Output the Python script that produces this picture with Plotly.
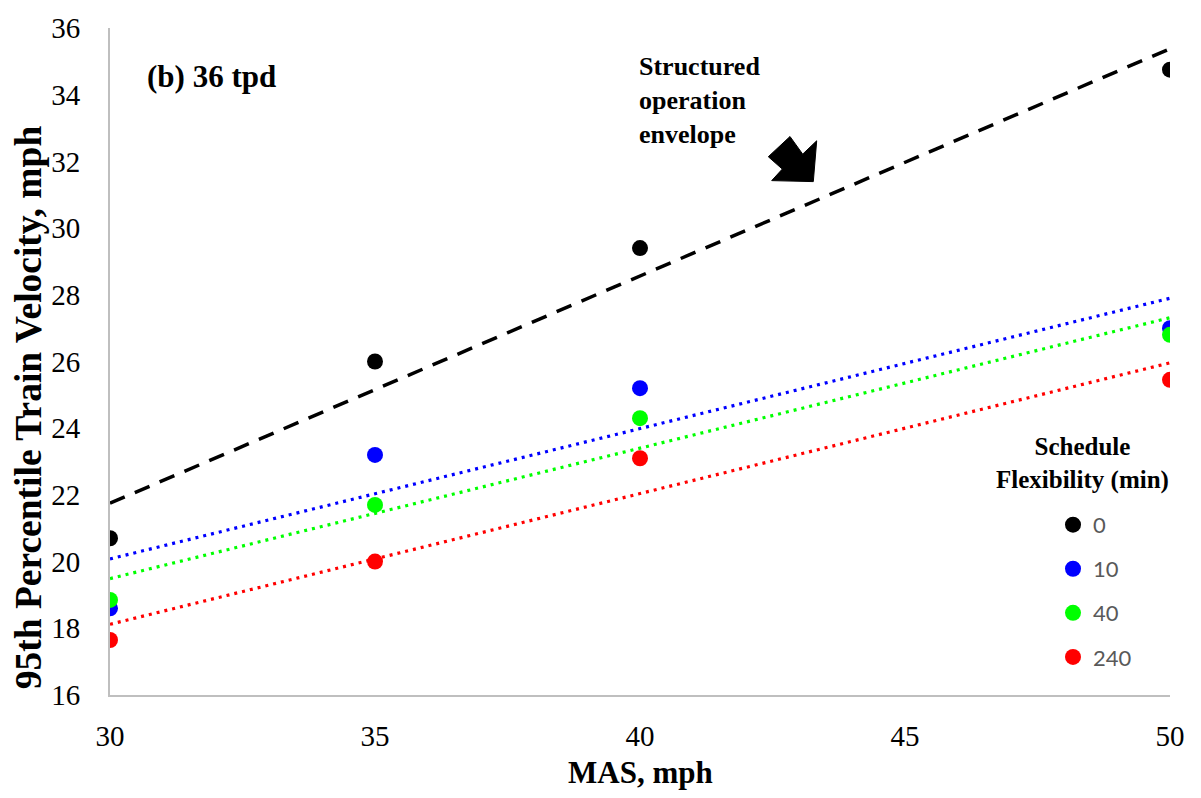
import numpy as np
import plotly.graph_objects as go

# ---- data ----
mas = [30, 35, 40, 50]
flex_labels = ["0", "10", "40", "240"]
v_flex0 = [20.7, 26.0, 29.4, 34.75]
v_flex10 = [18.6, 23.2, 25.2, 27.0]
v_flex40 = [18.85, 21.7, 24.3, 26.8]
v_flex240 = [17.65, 20.0, 23.1, 25.45]
x_ticks = [30, 35, 40, 45, 50]
y_ticks = [16, 18, 20, 22, 24, 26, 28, 30, 32, 34, 36]

series = [v_flex0, v_flex10, v_flex40, v_flex240]
colors = ["#000000", "#0000FF", "#00FF00", "#FF0000"]
dashes = ["16px,11px", "3px,5px", "3px,5px", "3px,5px"]
widths = [3.5, 3.2, 3.2, 3.2]

SERIF = "Liberation Serif, Times New Roman, serif"

fig = go.Figure()

# linear trendlines (least-squares fit on the data)
xfit = np.array([min(mas), max(mas)])
for vals, c, d, w in zip(series, colors, dashes, widths):
    k, b = np.polyfit(mas, vals, 1)
    fig.add_trace(go.Scatter(x=xfit, y=k * xfit + b, mode="lines",
                             line=dict(color=c, width=w, dash=d),
                             showlegend=False, hoverinfo="skip"))

# data points
for i, (vals, c, name) in enumerate(zip(series, colors, flex_labels)):
    fig.add_trace(go.Scatter(x=mas, y=vals, mode="markers", name=name,
                             legendgroup=f"g{i}",
                             marker=dict(color=c, size=16)))

axis_common = dict(showgrid=False, zeroline=False, showline=True,
                   linecolor="#BFBFBF", linewidth=2, ticks="",
                   tickfont=dict(family=SERIF, size=29, color="#000000"))

fig.update_xaxes(range=[30, 50], tickvals=x_ticks, ticklabelstandoff=14,
                 **axis_common)
fig.update_yaxes(range=[16, 36], tickvals=y_ticks, ticklabelstandoff=22,
                 **axis_common)

annotations = [
    dict(text="<b>MAS, mph</b>", x=640, y=773,
         font=dict(family=SERIF, size=31, color="#000000"),
         xanchor="center", yanchor="middle"),
    dict(text="<b>95th Percentile Train Velocity, mph</b>", x=28, y=406,
         textangle=-90, font=dict(family=SERIF, size=37.5, color="#000000"),
         xanchor="center", yanchor="middle"),
    dict(text="<b>(b) 36 tpd</b>", x=145, y=74,
         font=dict(family=SERIF, size=31, color="#000000"),
         xanchor="left", yanchor="middle"),
    dict(text="<b>Structured<br>operation<br>envelope</b>", x=637, y=98,
         font=dict(family=SERIF, size=26, color="#000000"), align="left",
         xanchor="left", yanchor="middle"),
    dict(text="<b>Schedule<br>Flexibility (min)</b>", x=1082, y=462,
         font=dict(family=SERIF, size=25, color="#000000"), align="center",
         xanchor="center", yanchor="middle"),
]

# convert pixel positions of annotations into paper coords
L, R, T, B = 110, 31, 25, 103
W, H = 1201, 798
pw, ph = W - L - R, H - T - B
for a in annotations:
    a["x"] = (a["x"] - L) / pw
    a["y"] = (H - B - a["y"]) / ph
    a["xref"] = "paper"
    a["yref"] = "paper"
    a["showarrow"] = False
fig.update_layout(annotations=annotations)

# block arrow pointing toward the envelope line
def px2d(px, py):
    return 30 + (px - L) / pw * 20, 16 + (H - B - py) / ph * 20

pts = [(790, 134), (802.7, 151.7), (816.7, 138.3), (813.3, 179.3),
       (771.7, 178.3), (782.3, 166.7), (768.3, 154.3)]
dp = [px2d(*p) for p in pts]
path = "M " + " L ".join(f"{x:.4f},{y:.4f}" for x, y in dp) + " Z"
fig.add_shape(type="path", path=path, xref="x", yref="y",
              fillcolor="#000000", line=dict(color="#000000", width=1))

fig.update_layout(
    width=W, height=H,
    margin=dict(l=L, r=R, t=T, b=B),
    paper_bgcolor="#FFFFFF", plot_bgcolor="#FFFFFF",
    legend=dict(x=(1053 - L) / pw, y=(H - B - 503) / ph,
                xanchor="left", yanchor="top",
                font=dict(family="Lato, Open Sans, sans-serif", size=22,
                          color="#595959"),
                tracegroupgap=12.5, bgcolor="rgba(0,0,0,0)"),
    showlegend=True,
)

fig.write_html("out.html")
